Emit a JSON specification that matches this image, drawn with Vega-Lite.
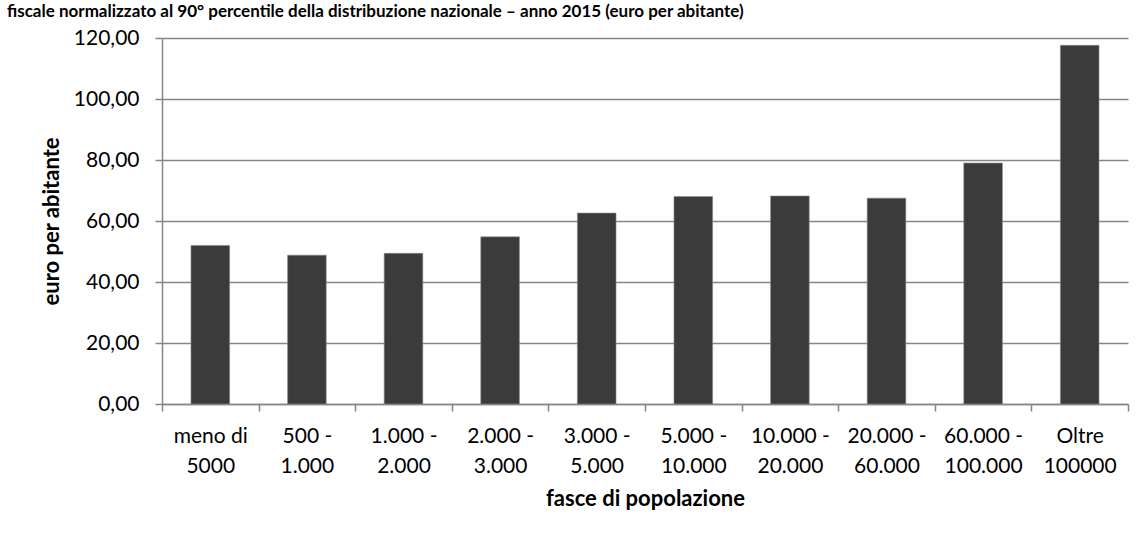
{
  "$schema": "https://vega.github.io/schema/vega-lite/v6.json",
  "autosize": {"type": "none"},
  "width": 966,
  "height": 366,
  "padding": {"left": 162, "top": 38, "right": 16, "bottom": 132},
  "background": "white",
  "config": {
    "locale": {"number": {"decimal": ",", "thousands": ".", "grouping": [3], "currency": ["€", ""]}},
    "view": {"stroke": null},
    "font": "Lato"
  },
  "title": {
    "text": "fiscale normalizzato al 90° percentile della distribuzione nazionale – anno 2015 (euro per abitante)",
    "anchor": "start",
    "frame": "group",
    "dx": -155,
    "dy": 15,
    "offset": 8,
    "baseline": "alphabetic",
    "font": "Lato",
    "fontSize": 17,
    "fontWeight": "bold",
    "color": "black"
  },
  "data": {
    "values": [
      {"fascia": "meno di|5000", "valore": 52.0},
      {"fascia": "500 -|1.000", "valore": 48.8},
      {"fascia": "1.000 -|2.000", "valore": 49.4},
      {"fascia": "2.000 -|3.000", "valore": 54.8},
      {"fascia": "3.000 -|5.000", "valore": 62.6},
      {"fascia": "5.000 -|10.000", "valore": 68.0},
      {"fascia": "10.000 -|20.000", "valore": 68.2},
      {"fascia": "20.000 -|60.000", "valore": 67.5},
      {"fascia": "60.000 -|100.000", "valore": 79.0},
      {"fascia": "Oltre|100000", "valore": 117.6}
    ]
  },
  "mark": {"type": "bar", "fill": "#3b3b3b", "stroke": "#8a8a8a", "strokeWidth": 0.6, "width": {"band": 0.4}},
  "encoding": {
    "x": {
      "field": "fascia",
      "type": "nominal",
      "sort": null,
      "scale": {"paddingInner": 0, "paddingOuter": 0},
      "axis": {
        "title": "fasce di popolazione",
        "labelExpr": "split(datum.label, '|')",
        "labelAngle": 0,
        "labelFont": "Lato",
        "labelFontSize": 21,
        "labelColor": "black",
        "labelLineHeight": 30,
        "labelPadding": 14,
        "tickBand": "extent",
        "tickSize": 7,
        "tickColor": "#868686",
        "tickWidth": 1.5,
        "domainColor": "#868686",
        "domainWidth": 1.5,
        "titleFont": "Lato",
        "titleFontSize": 22,
        "titleFontWeight": "bold",
        "titleColor": "black",
        "titlePadding": 12
      }
    },
    "y": {
      "field": "valore",
      "type": "quantitative",
      "scale": {"domain": [0, 120], "nice": false},
      "axis": {
        "title": "euro per abitante",
        "values": [0, 20, 40, 60, 80, 100, 120],
        "format": ".2f",
        "grid": true,
        "gridColor": "#868686",
        "gridWidth": 1.3,
        "tickSize": 7,
        "tickColor": "#868686",
        "tickWidth": 1.5,
        "domainColor": "#868686",
        "domainWidth": 1.5,
        "labelFont": "Lato",
        "labelFontSize": 21,
        "labelColor": "black",
        "labelPadding": 16,
        "titleFont": "Lato",
        "titleFontSize": 22,
        "titleFontWeight": "bold",
        "titleColor": "black",
        "titlePadding": 10
      }
    }
  }
}
